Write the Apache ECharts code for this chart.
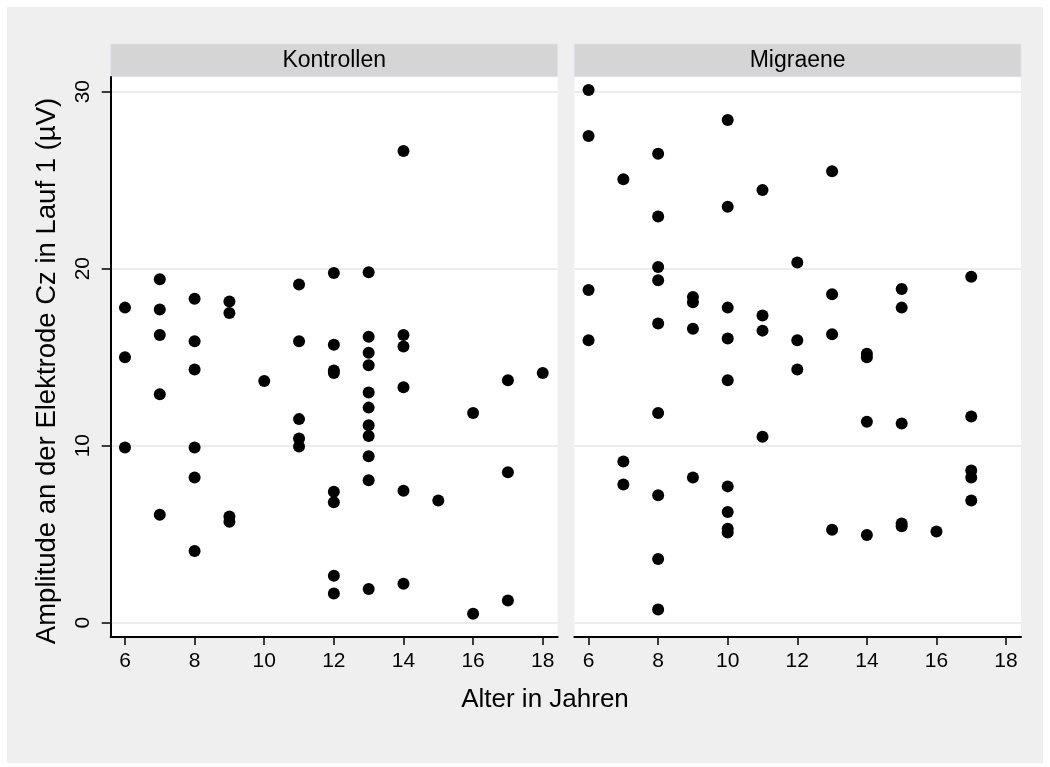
<!DOCTYPE html>
<html>
<head>
<meta charset="utf-8">
<title>Amplitude Cz nach Alter</title>
<script src="https://cdn.jsdelivr.net/npm/echarts@6/dist/echarts.min.js"></script>
<style>
  html, body { margin: 0; padding: 0; background: #ffffff; }
  #wrap { position: relative; width: 1050px; height: 767px; background: #ffffff; }
  #chart { position: absolute; left: 7px; top: 7px; width: 1036px; height: 756px; }
</style>
</head>
<body>
<div id="wrap"><div id="chart"></div></div>
<script>
// Panel titles
const panels = ['Kontrollen', 'Migraene'];

// Kontrollen: age (years) and Cz amplitude (µV), one entry per child
const kontrollenAlter = [
  6, 6, 6,
  7, 7, 7, 7, 7,
  8, 8, 8, 8, 8, 8,
  9, 9, 9, 9,
  10,
  11, 11, 11, 11, 11,
  12, 12, 12, 12, 12, 12, 12, 12,
  13, 13, 13, 13, 13, 13, 13, 13, 13, 13, 13,
  14, 14, 14, 14, 14, 14,
  15,
  16, 16,
  17, 17, 17,
  18
];
const kontrollenAmplitude = [
  17.8, 15.0, 9.9,
  19.4, 17.7, 16.25, 12.9, 6.1,
  18.3, 15.9, 14.3, 9.9, 8.2, 4.05,
  18.15, 17.5, 6.0, 5.7,
  13.65,
  19.1, 15.9, 11.5, 10.4, 9.95,
  19.75, 15.7, 14.25, 14.1, 7.4, 6.8, 2.65, 1.65,
  19.8, 16.15, 15.25, 14.55, 13.0, 12.15, 11.15, 10.55, 9.4, 8.05, 1.9,
  26.65, 16.25, 15.6, 13.3, 7.45, 2.2,
  6.9,
  11.85, 0.5,
  13.7, 8.5, 1.25,
  14.1
];

// Migraene: age (years) and Cz amplitude (µV)
const migraeneAlter = [
  6, 6, 6, 6,
  7, 7, 7,
  8, 8, 8, 8, 8, 8, 8, 8, 8,
  9, 9, 9, 9,
  10, 10, 10, 10, 10, 10, 10, 10, 10,
  11, 11, 11, 11,
  12, 12, 12,
  13, 13, 13, 13,
  14, 14, 14, 14,
  15, 15, 15, 15, 15,
  16,
  17, 17, 17, 17, 17
];
const migraeneAmplitude = [
  30.1, 27.5, 18.8, 15.95,
  25.05, 9.1, 7.8,
  26.5, 22.95, 20.1, 19.35, 16.9, 11.85, 7.2, 3.6, 0.75,
  18.4, 18.1, 16.6, 8.2,
  28.4, 23.5, 17.8, 16.05, 13.7, 7.7, 6.25, 5.3, 5.1,
  24.45, 17.35, 16.5, 10.5,
  20.35, 15.95, 14.3,
  25.5, 18.55, 16.3, 5.25,
  15.2, 15.0, 11.35, 4.95,
  18.85, 17.8, 11.25, 5.6, 5.45,
  5.15,
  19.55, 11.65, 8.6, 8.2, 6.9
];

// Tick positions
const xTicks = [6, 8, 10, 12, 14, 16, 18];
const yTicks = [0, 10, 20, 30];

const xTitle = 'Alter in Jahren';
const yTitle = 'Amplitude an der Elektrode Cz in Lauf 1 (µV)';

const FONT = "'Liberation Sans', Arial, Helvetica, sans-serif";

function pairs(xs, ys) {
  return xs.map((x, i) => [x, ys[i]]);
}

// Plot frame geometry (chart-local pixels)
const gridTop = 70;
const gridHeight = 560;
const grids = [
  { left: 103.7, width: 447 },
  { left: 567.3, width: 446.7 }
];
const stripY = 37;
const stripH = 32.7;

function xAxisFor(i) {
  return {
    gridIndex: i,
    type: 'value',
    min: 5.59,
    max: 18.43,
    axisLine: { show: true, onZero: false, lineStyle: { color: '#000', width: 2 } },
    axisTick: { show: true, length: 8, lineStyle: { color: '#000', width: 1.5 }, customValues: xTicks },
    axisLabel: { show: true, customValues: xTicks, margin: 14, fontSize: 21, color: '#000', fontFamily: FONT },
    splitLine: { show: false }
  };
}

function yAxisFor(i) {
  const first = i === 0;
  return {
    gridIndex: i,
    type: 'value',
    min: -0.81,
    max: 30.83,
    axisLine: { show: first, onZero: false, lineStyle: { color: '#000', width: 2 } },
    axisTick: { show: first, length: 9, lineStyle: { color: '#000', width: 1.5 }, customValues: yTicks },
    axisLabel: { show: first, customValues: yTicks, rotate: 90, margin: 17, fontSize: 21, color: '#000', fontFamily: FONT },
    splitLine: { show: true, lineStyle: { color: '#e6e6e6', width: 1.5 } }
  };
}

const graphicElements = [];
grids.forEach((g, i) => {
  graphicElements.push({
    type: 'rect',
    shape: { x: g.left, y: stripY, width: g.width, height: stripH },
    style: { fill: '#d5d5d5', stroke: '#e2e2ea', lineWidth: 1 }
  });
  graphicElements.push({
    type: 'text',
    x: g.left + g.width / 2,
    y: stripY + stripH / 2,
    style: { text: panels[i], fill: '#000', font: '23px ' + FONT, align: 'center', verticalAlign: 'middle' }
  });
});
graphicElements.push({
  type: 'text',
  x: 538,
  y: 693,
  style: { text: xTitle, fill: '#000', font: '26px ' + FONT, align: 'center', verticalAlign: 'middle' }
});
graphicElements.push({
  type: 'text',
  x: 40,
  y: 364,
  rotation: Math.PI / 2,
  style: { text: yTitle, fill: '#000', font: '27.5px ' + FONT, align: 'center', verticalAlign: 'middle' }
});

const chart = echarts.init(document.getElementById('chart'), null, { renderer: 'canvas' });
chart.setOption({
  animation: false,
  backgroundColor: '#efefef',
  grid: grids.map(g => ({
    left: g.left, top: gridTop, width: g.width, height: gridHeight,
    show: true, backgroundColor: '#ffffff', borderWidth: 0, containLabel: false
  })),
  xAxis: [xAxisFor(0), xAxisFor(1)],
  yAxis: [yAxisFor(0), yAxisFor(1)],
  series: [
    {
      name: panels[0], type: 'scatter', xAxisIndex: 0, yAxisIndex: 0,
      data: pairs(kontrollenAlter, kontrollenAmplitude),
      symbol: 'circle', symbolSize: 12, itemStyle: { color: '#000', opacity: 1 }
    },
    {
      name: panels[1], type: 'scatter', xAxisIndex: 1, yAxisIndex: 1,
      data: pairs(migraeneAlter, migraeneAmplitude),
      symbol: 'circle', symbolSize: 12, itemStyle: { color: '#000', opacity: 1 }
    }
  ],
  graphic: { elements: graphicElements }
});
</script>
</body>
</html>
